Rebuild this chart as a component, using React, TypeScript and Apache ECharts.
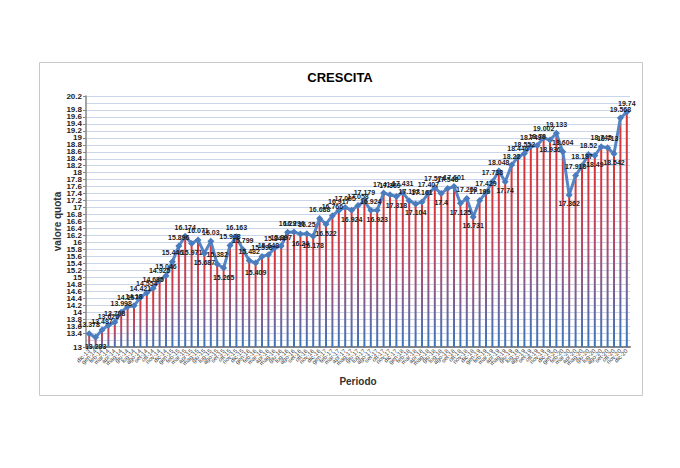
import React, { useEffect, useRef } from "react";
import * as echarts from "echarts";

const categories = [
  "dic-13",
  "gen-14", "feb-14", "mar-14", "apr-14", "mag-14", "giu-14", "lug-14", "ago-14", "set-14", "ott-14", "nov-14", "dic-14",
  "gen-15", "feb-15", "mar-15", "apr-15", "mag-15", "giu-15", "lug-15", "ago-15", "set-15", "ott-15", "nov-15", "dic-15",
  "gen-16", "feb-16", "mar-16", "apr-16", "mag-16", "giu-16", "lug-16", "ago-16", "set-16", "ott-16", "nov-16", "dic-16",
  "gen-17", "feb-17", "mar-17", "apr-17", "mag-17", "giu-17", "lug-17", "ago-17", "set-17", "ott-17", "nov-17", "dic-17",
  "gen-18", "feb-18", "mar-18", "apr-18", "mag-18", "giu-18", "lug-18", "ago-18", "set-18", "ott-18", "nov-18", "dic-18",
  "gen-19", "feb-19", "mar-19", "apr-19", "mag-19", "giu-19", "lug-19", "ago-19", "set-19", "ott-19", "nov-19", "dic-19",
  "gen-20", "feb-20", "mar-20", "apr-20", "mag-20", "giu-20", "lug-20", "ago-20", "set-20", "ott-20", "nov-20", "dic-20",
];

const quota = [
  13.378, 13.283, 13.487, 13.626, 13.708, 13.998, 14.157, 14.18, 14.421, 14.554,
  14.685, 14.925, 15.046, 15.446, 15.896, 16.174, 15.971, 16.071, 15.687, 16.03,
  15.382, 15.265, 15.908, 16.163, 15.799, 15.482, 15.409, 15.598, 15.648, 15.844,
  15.897, 16.29, 16.296, 16.24, 16.25, 16.178, 16.688, 16.522, 16.766, 16.917,
  17.005, 16.924, 17.058, 17.179, 16.924, 16.923, 17.414, 17.369, 17.318, 17.431,
  17.193, 17.104, 17.161, 17.407, 17.574, 17.4, 17.548, 17.601, 17.125, 17.258,
  16.731, 17.199, 17.429, 17.738, 18.048, 17.74, 18.22, 18.446, 18.552, 18.749,
  18.78, 19.002, 18.936, 19.133, 18.604, 17.362, 17.918, 18.197, 18.52, 18.49,
  18.745, 18.713, 18.542, 19.568, 19.74,
];

const yMin = 13;
const yMax = 20.2;
const yStep = 0.2;

const titleText = "CRESCITA";
const yName = "valore quota";
const xName = "Periodo";

export default function App() {
  const ref = useRef<HTMLDivElement>(null);
  useEffect(() => {
    if (!ref.current) return;
    const chart = echarts.init(ref.current, undefined, { renderer: "svg" });
    const lineData = quota.map((v, i) => {
      const prev = i > 0 ? quota[i - 1] : Infinity;
      const next = i < quota.length - 1 ? quota[i + 1] : Infinity;
      const isMin = v < prev && v < next;
      return { value: v, label: { position: isMin ? "bottom" : "top" } };
    });
    const font = "'Liberation Sans', Arial, sans-serif";
    chart.setOption({
      animation: false,
      backgroundColor: "#ffffff",
      textStyle: { fontFamily: font },
      title: {
        text: titleText,
        left: "center",
        top: 66,
        textStyle: { fontSize: 13, fontWeight: "bold", color: "#000", fontFamily: font },
      },
      graphic: [
        {
          type: "rect",
          shape: { x: 39.5, y: 62.5, width: 603, height: 333 },
          style: { fill: "none", stroke: "#c8c8c8", lineWidth: 1 },
          silent: true,
          z: -1,
        },
      ],
      grid: { left: 86, right: 50, top: 96, bottom: 121 },
      xAxis: {
        type: "category",
        data: categories,
        boundaryGap: true,
        name: xName,
        nameLocation: "middle",
        nameGap: 29,
        nameTextStyle: { fontSize: 10, fontWeight: "bold", color: "#333" },
        axisLine: { lineStyle: { color: "#868686", width: 2 } },
        axisTick: { show: false },
        axisLabel: {
          interval: 0,
          rotate: 45,
          fontSize: 6,
          color: "#404040",
          margin: 3,
        },
        splitLine: { show: false },
      },
      yAxis: {
        type: "value",
        min: yMin,
        max: yMax,
        interval: yStep,
        name: yName,
        nameLocation: "middle",
        nameGap: 24,
        nameMoveOverlap: false,
        nameTextStyle: { fontSize: 10, fontWeight: "bold", color: "#333" },
        axisLine: { show: true, lineStyle: { color: "#868686", width: 1.5 } },
        axisTick: { show: true, length: 3, lineStyle: { color: "#868686" } },
        axisLabel: {
          fontSize: 8,
          fontWeight: "bold",
          color: "#222",
          margin: 4,
          showMinLabel: true,
          showMaxLabel: true,
          hideOverlap: false,
          formatter: (v: number) => String(parseFloat(v.toFixed(1))),
        },
        splitLine: { show: true, lineStyle: { color: "#c9d6ea", width: 1 } },
      },
      series: [
        {
          type: "custom",
          data: quota.map((v, i) => [i, v]),
          renderItem: (params: any, api: any) => {
            const top = api.coord([api.value(0), api.value(1)]);
            const bottom = api.coord([api.value(0), yMin]);
            return {
              type: "rect",
              shape: { x: top[0] - 1, y: top[1], width: 2, height: bottom[1] - top[1] },
              style: {
                fill: new echarts.graphic.LinearGradient(0, 0, 0, 1, [
                  { offset: 0, color: "#e0302c" },
                  { offset: 0.45, color: "#b84a6a" },
                  { offset: 1, color: "#3a78c0" },
                ]),
              },
            };
          },
          z: 1,
          silent: true,
        },
        {
          type: "line",
          data: lineData,
          symbol: "diamond",
          symbolSize: 7,
          lineStyle: { color: "#5585c5", width: 3 },
          itemStyle: { color: "#4a7bbd" },
          z: 3,
          label: {
            show: true,
            fontSize: 7,
            fontWeight: "bold",
            color: "#1a1a1a",
            distance: 2,
            formatter: (p: any) => String(p.value),
          },
        },
      ],
    });
    return () => chart.dispose();
  }, []);
  return (
    <div
      ref={ref}
      style={{ position: "fixed", left: 0, top: 0, width: 680, height: 468 }}
    />
  );
}
